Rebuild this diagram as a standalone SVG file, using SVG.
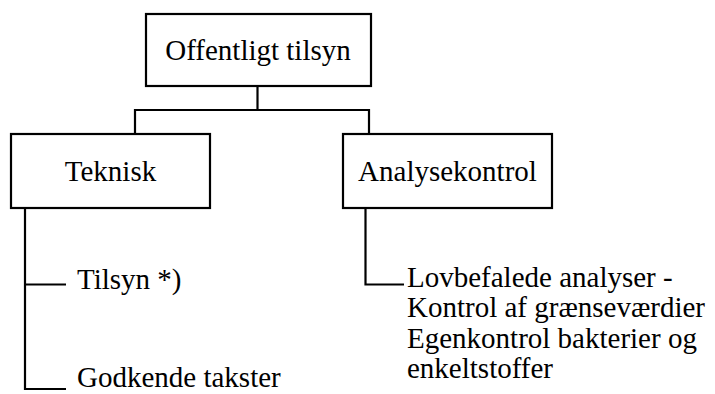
<svg xmlns="http://www.w3.org/2000/svg" width="715" height="394" viewBox="0 0 715 394">
<style>
.box{fill:#fff;stroke:#000;stroke-width:2.2}
.ln{fill:none;stroke:#000;stroke-width:2.2}
text{font-family:"Liberation Serif","Times New Roman",serif;font-size:29px;fill:#000}
.c{text-anchor:middle}
</style>
<rect width="715" height="394" fill="#fff"/>
<g id="connectors">
<path class="ln" d="M257.5 86 V110 M135 135 V110 H369 V135"/>
<path class="ln" d="M25 208 V389 H66 M25 284.5 H66"/>
<path class="ln" d="M365.5 208 V284.5 H404"/>
</g>
<g id="n-offentligt"><rect class="box" x="146" y="14" width="225" height="72"/><text class="c" x="258" y="60">Offentligt tilsyn</text></g>
<g id="n-teknisk"><rect class="box" x="11" y="134" width="199" height="74"/><text class="c" x="110.5" y="181">Teknisk</text></g>
<g id="n-analyse"><rect class="box" x="343" y="134" width="209" height="74"/><text class="c" x="447.5" y="181">Analysekontrol</text></g>
<g id="n-tilsyn"><text x="77" y="289">Tilsyn *)</text></g>
<g id="n-godkende"><text x="77" y="387">Godkende takster</text></g>
<g id="n-lov"><text x="407" y="287">Lovbefalede analyser -</text><text x="407" y="317">Kontrol af grænseværdier</text><text x="407" y="348">Egenkontrol bakterier og</text><text x="407" y="378">enkeltstoffer</text></g>
</svg>
